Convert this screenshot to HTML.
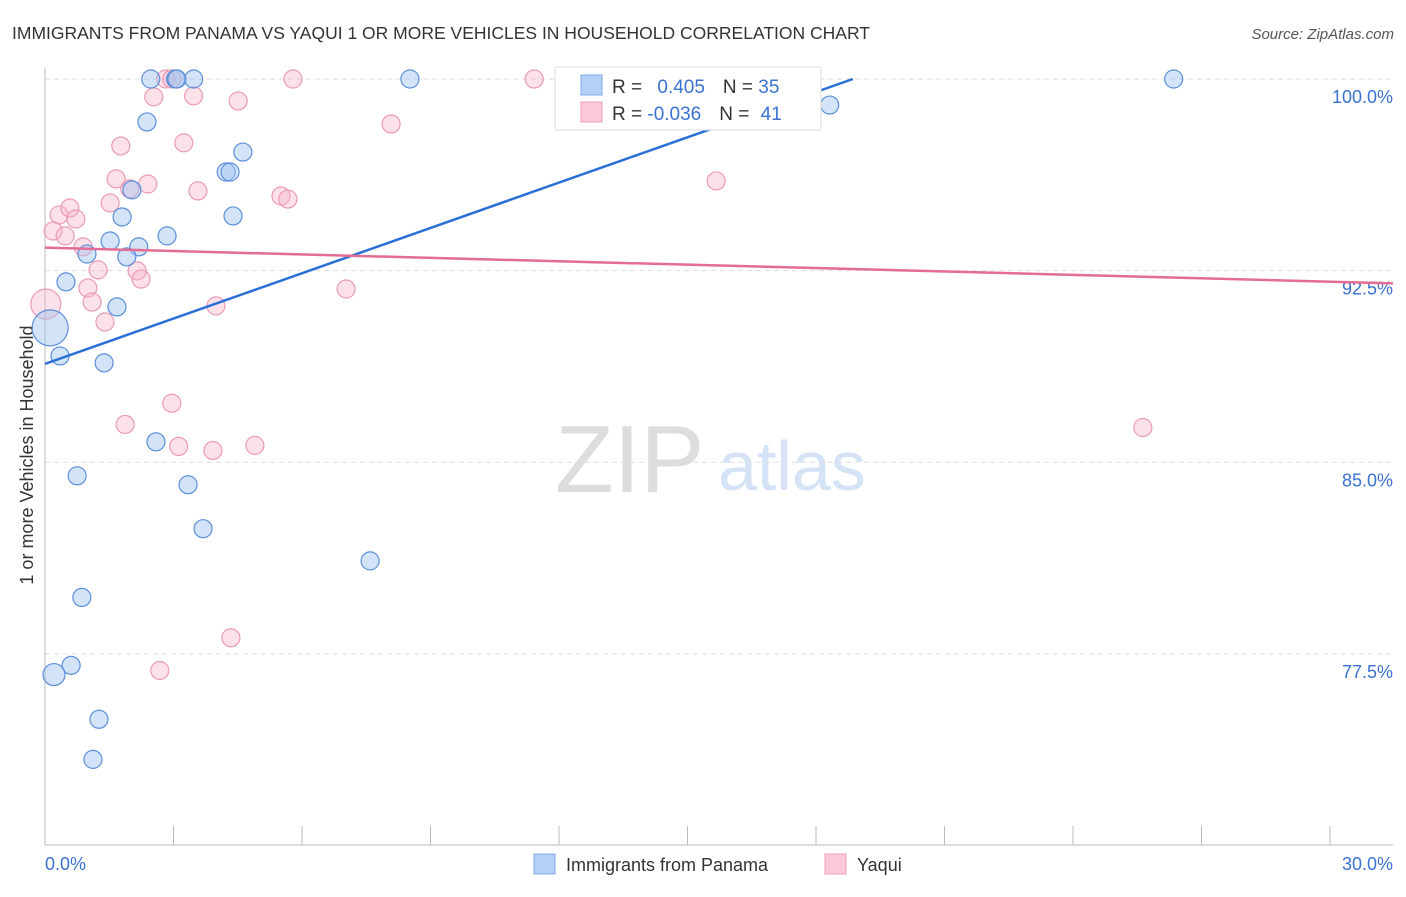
<!DOCTYPE html>
<html><head><meta charset="utf-8"><style>
body{margin:0;background:#fff;font-family:"Liberation Sans",sans-serif}
svg text{font-family:"Liberation Sans",sans-serif}
</style></head><body>
<svg id="c" width="1406" height="892">
<text x="12" y="39" font-size="17.5" fill="#333">IMMIGRANTS FROM PANAMA VS YAQUI 1 OR MORE VEHICLES IN HOUSEHOLD CORRELATION CHART</text>
<text x="1394" y="39" font-size="15" fill="#555" font-style="italic" text-anchor="end">Source: ZipAtlas.com</text>
<text x="33" y="455" font-size="18" fill="#333" text-anchor="middle" transform="rotate(-90 33 455)">1 or more Vehicles in Household</text>
<text x="555" y="492" font-size="96" fill="#ddd" font-family="Liberation Serif">ZIP</text>
<text x="718" y="490" font-size="70" fill="#d4e3f5">atlas</text>
<g id="grid"></g><g id="pts"></g><g id="lines"></g>
<g>
<rect x="555" y="67" width="266" height="63" fill="#fff" stroke="#ddd"/>
<rect x="581" y="75" width="21" height="20" fill="#b5d0f5" stroke="#7ea9e6"/>
<rect x="581" y="102" width="21" height="20" fill="#fac8d6" stroke="#ee9fb8"/>
<text x="612" y="93" font-size="19" fill="#333">R = <tspan fill="#3a72d0" dx="10">0.405</tspan><tspan dx="18" fill="#333">N = </tspan><tspan fill="#3a72d0">35</tspan></text>
<text x="612" y="120" font-size="19" fill="#333">R = <tspan fill="#3a72d0">-0.036</tspan><tspan dx="18" fill="#333">N = </tspan><tspan fill="#3a72d0" dx="6">41</tspan></text>
</g>
<g>
<rect x="534" y="854" width="21" height="20" fill="#b5d0f5" stroke="#7ea9e6"/>
<text x="566" y="871" font-size="18" fill="#333">Immigrants from Panama</text>
<rect x="825" y="854" width="21" height="20" fill="#fac8d6" stroke="#ee9fb8"/>
<text x="857" y="871" font-size="18" fill="#333">Yaqui</text>
</g>
</svg>
<script>
const yTicks=[100,92.5,85,77.5];
const yTickLabels=["100.0%","92.5%","85.0%","77.5%"];
const xEndLabels=["0.0%","30.0%"];
const blueX=[2.47,3.05,3.47,8.52,26.35,18.32,2.38,4.62,4.23,4.32,2.03,1.80,4.39,1.52,2.85,2.19,0.98,1.91,0.49,1.68,0.12,0.35,1.38,2.59,0.75,3.34,3.69,7.59,0.86,0.61,0.21,1.26,1.12,14.66,3.08];
const blueY=[100,100,100,100,100,98.98,98.32,97.14,96.36,96.36,95.66,94.60,94.64,93.66,93.86,93.43,93.15,93.04,92.06,91.08,90.26,89.16,88.89,85.80,84.47,84.12,82.40,81.14,79.71,77.05,76.69,74.94,73.37,99.18,100];
const blueR=[9,9,9,9,9,9,9,9,9,9,9,9,9,9,9,9,9,9,9,9,18,9,9,9,9,9,9,9,9,9,11,9,9,9,9];
const pinkX=[2.82,2.96,5.79,11.42,2.54,3.47,4.51,8.08,1.77,3.24,15.67,1.66,2.40,1.98,3.57,5.51,5.67,1.52,0.33,0.58,0.72,0.19,0.47,0.89,1.24,2.15,2.24,1.00,1.10,0.02,3.99,7.03,1.40,2.96,1.87,3.12,3.92,4.90,25.63,4.34,2.68];
const pinkY=[100,100,100,100,99.30,99.34,99.14,98.24,97.38,97.50,96.01,96.09,95.89,95.70,95.62,95.42,95.30,95.15,94.68,94.95,94.52,94.05,93.86,93.43,92.53,92.49,92.17,91.82,91.27,91.19,91.12,91.78,90.49,87.31,86.48,85.62,85.46,85.66,86.36,78.13,76.85];
const pinkR=[9,9,9,9,9,9,9,9,9,9,9,9,9,9,9,9,9,9,9,9,9,9,9,9,9,9,9,9,9,15,9,9,9,9,9,9,9,9,9,9,9];
const blueTrend=[0,88.85,18.86,100];
const pinkTrend=[0,93.4,31.47,92.0];
const NS="http://www.w3.org/2000/svg";
const X=v=>45+v/30*1285, Y=v=>79+(100-v)*25.55;
function mk(t,a,p){const e=document.createElementNS(NS,t);for(const k in a)e.setAttribute(k,a[k]);p.appendChild(e);return e;}
const g=document.getElementById('grid');
yTicks.forEach((v,i)=>{
 const l=mk('line',{x1:45,x2:1393,y1:Y(v),y2:Y(v),stroke:'#ddd','stroke-dasharray':'5,4'},g);
 
 
 const t=mk('text',{x:1393,y:Y(v)+24,'font-size':18,fill:'#3a72d0','text-anchor':'end'},g);
 t.textContent=yTickLabels[i];
 
 
});
const ax=mk('line',{x1:45,x2:45,y1:68,y2:845,stroke:'#bbb'},g);


const bx=mk('line',{x1:45,x2:1393,y1:845,y2:845,stroke:'#bbb'},g);


for(let i=0;i<=10;i++){const t=mk('line',{x1:X(i*3),x2:X(i*3),y1:826,y2:845,stroke:'#bbb'},g);
 
 }
[[0,'start',45],[30,'end',1393]].forEach((d,i)=>{const t=mk('text',{x:d[2],y:870,'font-size':18,fill:'#3a72d0','text-anchor':d[1]},g);t.textContent=xEndLabels[i];
 
 });
const p=document.getElementById('pts');
pinkX.forEach((v,i)=>{const c=mk('circle',{cx:X(v),cy:Y(pinkY[i]),r:pinkR[i],fill:'rgba(248,180,200,0.4)',stroke:'#ec9ab4','stroke-width':1.2},p);
 
 });
blueX.forEach((v,i)=>{const c=mk('circle',{cx:X(v),cy:Y(blueY[i]),r:blueR[i],fill:'rgba(160,196,240,0.45)',stroke:'#5a8fdc','stroke-width':1.2},p);
 
 });
const L=document.getElementById('lines');
const b=mk('line',{x1:X(blueTrend[0]),y1:Y(blueTrend[1]),x2:X(blueTrend[2]),y2:Y(blueTrend[3]),stroke:'#2a6fd6','stroke-width':2.5},L);


const q=mk('line',{x1:X(pinkTrend[0]),y1:Y(pinkTrend[1]),x2:X(pinkTrend[2]),y2:Y(pinkTrend[3]),stroke:'#e46c95','stroke-width':2.5},L);


</script>
</body></html>
